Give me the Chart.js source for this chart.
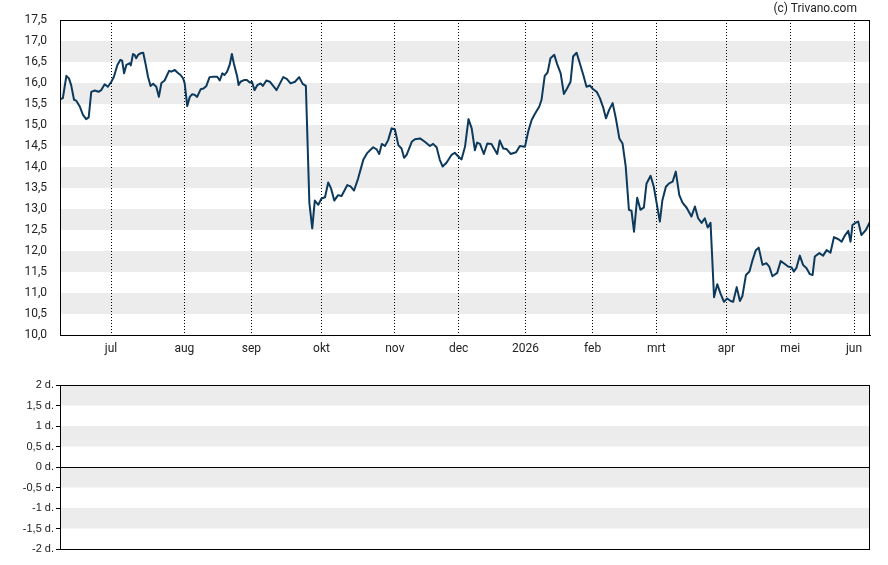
<!DOCTYPE html>
<html>
<head>
<meta charset="utf-8">
<script src="https://cdn.jsdelivr.net/npm/chart.js@4/dist/chart.umd.min.js"></script>
<style>
    body{ margin:0; background:#fff; }
    #wrap{ position:relative; width:888px; height:565px; }
    #copy{ position:absolute; right:31px; top:1px; font:12px Roboto, sans-serif; color:#222; }
    #priceChart{ position:absolute; left:0; top:0; }
    #daysChart{ position:absolute; left:0; top:360px; }
</style>
</head>
<body>
<div id="wrap">
    <canvas id="priceChart" width="888" height="360"></canvas>
    <canvas id="daysChart" width="888" height="205"></canvas>
    <div id="copy">(c) Trivano.com</div>
</div>
<script>

// 交易日序号（从 2025-06-09 起）与收盘价，按图上读取。
const tradeDay = [
    0, 0.9, 2.0, 2.8, 3.5, 4.4, 5.1, 6.2, 7.2, 8.2, 9.0, 9.8, 10.9, 12.1, 12.9, 14.0, 15.0, 16.1, 16.9, 18.0,
    18.9, 19.5, 20.1, 20.8, 21.9, 22.2, 22.9, 23.4, 23.9, 24.5, 25.3, 26.1, 26.9, 27.6, 28.4, 29.2, 30.2, 31.0, 31.8, 32.8,
    34.2, 34.9, 36.0, 36.8, 37.8, 38.6, 39.1, 39.9, 40.7, 41.4, 42.2, 43.0, 44.1, 45.0, 45.9, 46.9, 48.0, 49.3, 50.1, 50.9,
    51.6, 52.4, 53.2, 53.9, 54.5, 55.6, 56.0, 56.6, 57.7, 58.6, 59.5, 60.2, 61.0, 61.9, 62.9, 63.6, 64.7, 65.8, 67.9, 70.0,
    71.1, 72.3, 73.7, 75.0, 76.1, 77.1, 78.2, 79.1, 79.9, 81.0, 82.0, 83.1, 84.1, 85.0, 86.0, 87.2, 88.3, 90.1, 91.1, 92.2,
    93.5, 95.1, 96.3, 98.2, 99.3, 100.1, 100.9, 101.9, 102.9, 104.0, 105.0, 106.1, 107.1, 107.9, 108.7, 110.3, 111.3, 112.9, 114.4, 116.0,
    117.0, 118.1, 119.1, 120.0, 121.2, 122.8, 123.8, 124.9, 125.9, 127.0, 128.1, 129.1, 130.1, 130.8, 131.7, 132.9, 134.0, 135.3, 137.1, 137.9,
    139.0, 140.0, 141.3, 143.0, 144.2, 145.8, 146.8, 147.9, 148.9, 150.3, 151.0, 152.0, 152.9, 153.8, 155.0, 155.9, 157.0, 158.0, 159.0, 160.1,
    160.9, 162.0, 163.0, 164.1, 165.1, 166.2, 167.2, 168.3, 169.3, 170.4, 171.2, 172.2, 173.3, 174.3, 175.4, 176.4, 177.4, 178.4, 179.2, 180.0,
    181.0, 182.0, 183.1, 183.9, 185.2, 186.2, 187.1, 188.1, 188.9, 190.0, 191.0, 192.1, 193.1, 194.2, 195.2, 196.5, 198.0, 199.1, 200.1, 201.2,
    202.2, 203.1, 204.0, 205.1, 206.1, 207.1, 208.2, 209.2, 210.3, 211.1, 212.2, 213.2, 214.0, 215.1, 216.2, 217.2, 218.2, 219.1, 220.3, 221.5,
    222.4, 223.4, 224.9, 226.0, 227.3, 228.3, 229.4, 230.1, 230.9, 232.0, 233.0, 234.1, 235.1, 236.0, 236.7, 238.1, 239.3, 240.4, 241.6, 242.7,
    244.1, 245.1, 246.2, 247.2, 247.9, 248.5, 249.6, 250.3, 251.3, 252.7, 253.9
];

const closePrice = [
    15.61, 15.64, 16.17, 16.11, 15.95, 15.60, 15.58, 15.44, 15.24, 15.14, 15.18, 15.79, 15.82, 15.79, 15.83, 15.97, 15.91, 16.03, 16.15, 16.43,
    16.55, 16.53, 16.23, 16.43, 16.47, 16.42, 16.69, 16.67, 16.59, 16.67, 16.71, 16.72, 16.43, 16.15, 15.93, 15.98, 15.91, 15.67, 16.00, 16.06,
    16.29, 16.27, 16.31, 16.25, 16.19, 16.11, 15.99, 15.45, 15.67, 15.73, 15.72, 15.67, 15.85, 15.87, 15.93, 16.14, 16.15, 16.15, 16.06, 16.23,
    16.19, 16.27, 16.43, 16.69, 16.47, 16.14, 15.95, 16.03, 16.07, 16.07, 16.01, 16.03, 15.83, 15.95, 15.99, 15.93, 16.06, 16.03, 15.83, 16.14,
    16.10, 15.99, 16.03, 16.14, 15.98, 15.93, 13.14, 12.54, 13.20, 13.10, 13.25, 13.28, 13.63, 13.49, 13.20, 13.33, 13.31, 13.57, 13.54, 13.44,
    13.73, 14.17, 14.33, 14.47, 14.42, 14.31, 14.55, 14.50, 14.64, 14.92, 14.90, 14.52, 14.44, 14.22, 14.29, 14.60, 14.66, 14.68, 14.60, 14.50,
    14.55, 14.47, 14.17, 14.01, 14.10, 14.29, 14.34, 14.25, 14.18, 14.48, 15.14, 14.92, 14.40, 14.58, 14.55, 14.31, 14.56, 14.55, 14.31, 14.63,
    14.44, 14.43, 14.31, 14.35, 14.50, 14.48, 14.84, 15.12, 15.26, 15.44, 15.60, 16.17, 16.25, 16.59, 16.67, 16.45, 16.23, 15.74, 15.87, 16.03,
    16.63, 16.72, 16.47, 16.19, 15.91, 15.94, 15.85, 15.79, 15.64, 15.40, 15.16, 15.36, 15.52, 15.16, 14.68, 14.56, 14.01, 12.98, 12.96, 12.46,
    13.27, 12.98, 13.04, 13.60, 13.79, 13.53, 13.14, 12.70, 13.21, 13.53, 13.61, 13.65, 13.89, 13.33, 13.15, 13.03, 12.82, 13.06, 12.78, 12.67,
    12.78, 12.56, 12.67, 10.90, 11.21, 10.99, 10.79, 10.87, 10.81, 10.79, 11.14, 10.81, 10.93, 11.43, 11.51, 11.79, 12.02, 12.08, 11.67, 11.71,
    11.63, 11.40, 11.48, 11.76, 11.69, 11.63, 11.61, 11.51, 11.59, 11.89, 11.67, 11.59, 11.45, 11.43, 11.87, 11.95, 11.89, 12.02, 11.96, 12.33,
    12.28, 12.22, 12.38, 12.48, 12.22, 12.62, 12.68, 12.70, 12.38, 12.50, 12.68
];

// 月份刻度：每月第一个交易日的序号与标签。
const monthDay = [16, 39, 60, 82, 105, 125, 146, 167, 187, 209, 229, 249];
const monthLabel = ["jul", "aug", "sep", "okt", "nov", "dec", "2026", "feb", "mrt", "apr", "mei", "jun"];

// 价格轴与下方副图的刻度范围。
const priceMin = 10, priceMax = 17.5, priceStep = 0.5;
const subMin = -2, subMax = 2, subStep = 0.5;
const dayMax = 254;

const lineColor = "#0d3a5c";
const bandColor = "#ececec";

// 在绘图区画灰白相间的横条，并补上边框。
const bandPlugin = {
    id:"bands",
    beforeDraw(chart){
        const ctx = chart.ctx;
        const area = chart.chartArea;
        const y = chart.scales.y;
        ctx.save();
        ctx.fillStyle = bandColor;
        for(let i = 1; i < y.ticks.length - 1; i += 2){
            const a = y.getPixelForValue(y.ticks[i].value);
            const b = y.getPixelForValue(y.ticks[i + 1].value);
            ctx.fillRect(area.left, Math.min(a, b), area.right - area.left, Math.abs(b - a));
        }
        ctx.restore();
    },
    afterDraw(chart){
        const ctx = chart.ctx;
        const area = chart.chartArea;
        ctx.save();
        ctx.strokeStyle = "#000";
        ctx.lineWidth = 1;
        ctx.strokeRect(Math.round(area.left) + 0.5, Math.round(area.top) + 0.5,
            Math.round(area.right - area.left) - 1, Math.round(area.bottom - area.top));
        if(chart.options.plugins.bands && chart.options.plugins.bands.zeroLine){
            const z = Math.round(chart.scales.y.getPixelForValue(0)) + 0.5;
            ctx.beginPath();
            ctx.moveTo(area.left, z);
            ctx.lineTo(area.right, z);
            ctx.stroke();
        }
        ctx.restore();
    }
};

function fmtComma(v, digits){
    return v.toFixed(digits).replace(".", ",");
}

const points = tradeDay.map((d, i) => ({x:d, y:closePrice[i]}));

new Chart(document.getElementById("priceChart"), {
    type:"line",
    data:{
        datasets:[{
            data:points,
            borderColor:lineColor,
            borderWidth:2,
            pointRadius:0,
            tension:0,
            borderJoinStyle:"round"
        }]
    },
    options:{
        responsive:false,
        animation:false,
        layout:{ padding:{ top:20, right:18, left:0, bottom:0 } },
        plugins:{ legend:{ display:false }, tooltip:{ enabled:false } },
        scales:{
            x:{
                type:"linear",
                min:0,
                max:dayMax,
                afterBuildTicks(scale){
                    scale.ticks = monthDay.map(v => ({value:v}));
                },
                afterFit(scale){ scale.height = 25; },
                ticks:{
                    autoSkip:false,
                    maxRotation:0,
                    padding:7,
                    color:"#222",
                    font:{ family:"Roboto", size:12 },
                    callback:(v) => monthLabel[monthDay.indexOf(v)]
                },
                grid:{
                    color:"#000",
                    lineWidth:1,
                    drawTicks:false,
                    tickBorderDash:[1, 2]
                },
                border:{ display:true, color:"#000", dash:[1, 2] }
            },
            y:{
                min:priceMin,
                max:priceMax,
                afterFit(scale){ scale.width = 60; },
                ticks:{
                    stepSize:priceStep,
                    padding:5,
                    color:"#222",
                    font:{ family:"Roboto", size:12 },
                    callback:(v) => fmtComma(v, 1)
                },
                grid:{ display:false },
                border:{ display:true, color:"#000" }
            }
        }
    },
    plugins:[bandPlugin]
});

new Chart(document.getElementById("daysChart"), {
    type:"line",
    data:{ datasets:[{ data:[], borderColor:lineColor, pointRadius:0 }] },
    options:{
        responsive:false,
        animation:false,
        layout:{ padding:{ top:25, right:18, left:0, bottom:16 } },
        plugins:{ legend:{ display:false }, tooltip:{ enabled:false }, bands:{ zeroLine:true } },
        scales:{
            x:{ type:"linear", min:0, max:dayMax, display:false },
            y:{
                min:subMin,
                max:subMax,
                afterFit(scale){ scale.width = 60; },
                ticks:{
                    stepSize:subStep,
                    padding:2,
                    color:"#222",
                    font:{ family:"Liberation Sans", size:11 },
                    callback:(v) => (Number.isInteger(v) ? String(v) : fmtComma(v, 1)) + " d."
                },
                grid:{
                    drawOnChartArea:false,
                    drawTicks:true,
                    tickLength:4,
                    color:"#000"
                },
                border:{ display:true, color:"#000" }
            }
        }
    },
    plugins:[bandPlugin]
});

</script>
</body>
</html>
